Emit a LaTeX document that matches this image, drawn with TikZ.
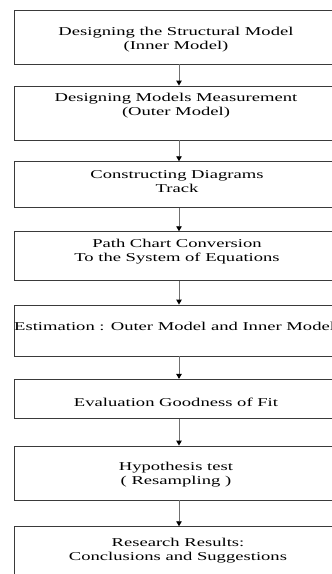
\documentclass[tikz,border=0pt]{standalone}
\usepackage{fontspec}
\setmainfont{Liberation Serif}[FakeStretch=1.55]
\usetikzlibrary{arrows.meta}
\definecolor{boxline}{HTML}{3A3A3A}
\definecolor{arrline}{HTML}{707070}
\tikzset{
  box/.style={draw=boxline, line width=0.9pt, minimum width=330pt, inner sep=0pt, rectangle},
  label/.style={font=\fontsize{12}{14}\selectfont, align=center, text=black, inner sep=0pt},
  arr/.style={draw=arrline, line width=0.9pt, -{Triangle[length=5pt,width=5.5pt,fill=black,color=black]}}
}
\begin{document}
\begin{tikzpicture}[x=1pt,y=-1pt]
\useasboundingbox (0,0) rectangle (332,574);
\fill[white] (0,0) rectangle (332,574);
\clip (0,0) rectangle (332,574);
% boxes
\node[box, minimum height=54pt] (b1) at (179,37) {};
\node[box, minimum height=54pt] (b2) at (179,113) {};
\node[box, minimum height=46pt] (b3) at (179,184.7) {};
\node[box, minimum height=49pt] (b4) at (179,256.2) {};
\node[box, minimum height=51pt] (b5) at (179,330.5) {};
\node[box, minimum height=39pt] (b6) at (179,398.8) {};
\node[box, minimum height=54pt] (b7) at (179,473) {};
\node[box, minimum height=56pt] (b8) at (179,554.7) {};
% texts
\node[label] (t1) at (176,39.5) {Designing the Structural Model\\(Inner Model)};
\node[label] (t2) at (176,105.5) {Designing Models Measurement\\(Outer Model)};
\node[label] (t3) at (177,181.5) {Constructing Diagrams\\Track};
\node[label] (t4) at (177,252) {Path Chart Conversion\\To the System of Equations};
\node[label, anchor=west] (t5) at (14,326) {Estimation : Outer Model and Inner Model};
\node[label] (t6) at (176,402) {Evaluation Goodness of Fit};
\node[label] (t7) at (176,475) {Hypothesis test\\( Resampling )};
\node[label] (t8) at (178,550.7) {Research Results:\\Conclusions and Suggestions};
% arrows
\draw[arr] (b1.south) -- (b2.north);
\draw[arr] (b2.south) -- (b3.north);
\draw[arr] (b3.south) -- (b4.north);
\draw[arr] (b4.south) -- (b5.north);
\draw[arr] (b5.south) -- (b6.north);
\draw[arr] (b6.south) -- (b7.north);
\draw[arr] (b7.south) -- (b8.north);
\end{tikzpicture}
\end{document}
